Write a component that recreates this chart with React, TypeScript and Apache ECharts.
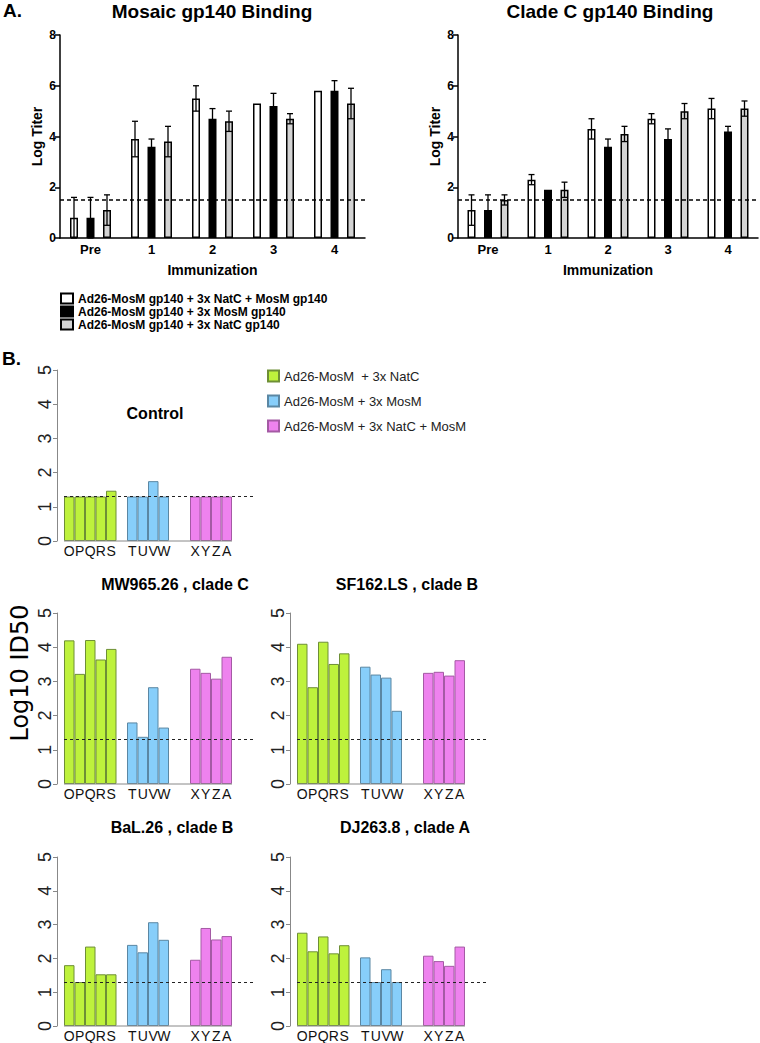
import React, { useEffect, useRef } from 'react';
import * as echarts from 'echarts';

// ---------- Panel A data ----------
const immunizations = ['Pre', '1', '2', '3', '4'];
const groupsA = [
  'Ad26-MosM gp140 + 3x NatC + MosM gp140',
  'Ad26-MosM gp140 + 3x MosM gp140',
  'Ad26-MosM gp140 + 3x NatC gp140',
];
const mosaicWhite = [0.8, 3.9, 5.5, 5.3, 5.8];
const mosaicWhiteErr = [0.8, 0.7, 0.5, 0, 0];
const mosaicBlack = [0.8, 3.6, 4.7, 5.2, 5.8];
const mosaicBlackErr = [0.8, 0.3, 0.4, 0.5, 0.4];
const mosaicGray = [1.1, 3.8, 4.6, 4.7, 5.3];
const mosaicGrayErr = [0.6, 0.6, 0.4, 0.2, 0.6];

const cladeCWhite = [1.1, 2.3, 4.3, 4.7, 5.1];
const cladeCWhiteErr = [0.6, 0.2, 0.4, 0.2, 0.4];
const cladeCBlack = [1.1, 1.9, 3.6, 3.9, 4.2];
const cladeCBlackErr = [0.6, 0, 0.3, 0.4, 0.2];
const cladeCGray = [1.5, 1.9, 4.1, 5.0, 5.1];
const cladeCGrayErr = [0.2, 0.3, 0.3, 0.3, 0.3];

const bindingCutoff = 1.5;
const titerTicks = [0, 2, 4, 6, 8];

// ---------- Panel B data ----------
const groupsB = ['Ad26-MosM  + 3x NatC', 'Ad26-MosM + 3x MosM', 'Ad26-MosM + 3x NatC + MosM'];
const greenLetters = ['O', 'P', 'Q', 'R', 'S'];
const blueLetters = ['T', 'U', 'V', 'W'];
const pinkLetters = ['X', 'Y', 'Z', 'A'];

const controlGreen = [1.3, 1.3, 1.3, 1.3, 1.47];
const controlBlue = [1.3, 1.3, 1.75, 1.3];
const controlPink = [1.3, 1.3, 1.3, 1.3];

const mw965Green = [4.2, 3.22, 4.21, 3.64, 3.95];
const mw965Blue = [1.8, 1.38, 2.83, 1.65];
const mw965Pink = [3.37, 3.25, 3.08, 3.72];

const sf162Green = [4.1, 2.83, 4.16, 3.51, 3.82];
const sf162Blue = [3.43, 3.2, 3.11, 2.14];
const sf162Pink = [3.25, 3.28, 3.17, 3.62];

const bal26Green = [1.8, 1.3, 2.35, 1.53, 1.53];
const bal26Blue = [2.4, 2.18, 3.07, 2.55];
const bal26Pink = [1.96, 2.9, 2.56, 2.66];

const dj263Green = [2.76, 2.21, 2.65, 2.15, 2.39];
const dj263Blue = [2.03, 1.3, 1.68, 1.3];
const dj263Pink = [2.08, 1.92, 1.78, 2.35];

const neutCutoff = 1.3;

// ---------- styling ----------
const FONT = '"Liberation Sans", Arial, Helvetica, sans-serif';
const GREEN = '#bef23c';
const BLUE = '#87cefa';
const PINK = '#ee82ee';
const GREEN_EDGE = '#6e8f36';
const BLUE_EDGE = '#5b87a3';
const PINK_EDGE = '#a45aa4';

export default function App() {
  const ref = useRef<HTMLDivElement>(null);

  useEffect(() => {
    if (!ref.current) return;
    const chart = echarts.init(ref.current, undefined, { renderer: 'svg' });

    const grid: any[] = [];
    const xAxis: any[] = [];
    const yAxis: any[] = [];
    const series: any[] = [];
    const title: any[] = [];

    // ---------- Panel A ----------
    const barW = 8;
    const barGapPx = 8.5;
    const aCharts = [
      {
        name: 'Mosaic gp140 Binding', left: 60, width: 305, titleX: 207,
        vals: [mosaicWhite, mosaicBlack, mosaicGray],
        errs: [mosaicWhiteErr, mosaicBlackErr, mosaicGrayErr],
      },
      {
        name: 'Clade C gp140 Binding', left: 458, width: 300, titleX: 605,
        vals: [cladeCWhite, cladeCBlack, cladeCGray],
        errs: [cladeCWhiteErr, cladeCBlackErr, cladeCGrayErr],
      },
    ];
    const aFills = ['#ffffff', '#000000', '#d3d3d3'];

    aCharts.forEach((c) => {
      const gi = grid.length;
      grid.push({ left: c.left, top: 35, width: c.width, height: 203 });
      title.push({
        text: c.name, left: c.titleX, top: -3, textAlign: 'center',
        textStyle: { fontFamily: FONT, fontSize: 19, fontWeight: 'bold', color: '#000' },
      });
      xAxis.push({
        type: 'category', gridIndex: gi, data: immunizations,
        name: 'Immunization', nameLocation: 'middle', nameGap: 25,
        nameTextStyle: { fontFamily: FONT, fontSize: 14, fontWeight: 'bold', color: '#000' },
        axisLine: { lineStyle: { color: '#000', width: 1.5 } },
        axisTick: { show: false },
        axisLabel: { fontFamily: FONT, fontSize: 13, fontWeight: 'bold', color: '#000', margin: 5 },
      });
      yAxis.push({
        type: 'value', gridIndex: gi, min: titerTicks[0], max: titerTicks[titerTicks.length - 1], interval: 2,
        name: 'Log Titer', nameLocation: 'middle', nameGap: 16,
        nameTextStyle: { fontFamily: FONT, fontSize: 14, fontWeight: 'bold', color: '#000' },
        axisLine: { show: true, lineStyle: { color: '#000', width: 1.5 } },
        axisTick: { show: true, length: 5, lineStyle: { color: '#000', width: 1.5 } },
        axisLabel: { fontFamily: FONT, fontSize: 12, fontWeight: 'bold', color: '#000', margin: 4 },
        splitLine: { show: false },
      });
      c.vals.forEach((vals, si) => {
        series.push({
          type: 'bar', name: groupsA[si], xAxisIndex: gi, yAxisIndex: gi,
          data: vals, barWidth: barW, barGap: (barGapPx / barW) * 100 + '%',
          itemStyle: { color: aFills[si], borderColor: '#000', borderWidth: 1.5 },
          z: 2,
          ...(si === 0
            ? {
                markLine: {
                  silent: true, symbol: 'none', label: { show: false }, z: 6,
                  lineStyle: { color: '#000', width: 1.5, type: [4, 3] },
                  data: [{ yAxis: bindingCutoff }],
                },
              }
            : {}),
        });
        const offset = (si - 1) * (barW + barGapPx);
        series.push({
          type: 'custom', xAxisIndex: gi, yAxisIndex: gi, z: 5,
          data: vals.map((v, i) => [i, v, c.errs[si][i]]),
          renderItem: (params: any, api: any) => {
            const e = api.value(2);
            if (!e) return { type: 'group', children: [] };
            const x = api.value(0);
            const v = api.value(1);
            const top = api.coord([x, v + e]);
            const bot = api.coord([x, v - e]);
            const cx = top[0] + offset;
            const st = { stroke: '#000', lineWidth: 1.3 };
            const cap = 3;
            return {
              type: 'group',
              children: [
                { type: 'line', shape: { x1: cx, y1: top[1], x2: cx, y2: bot[1] }, style: st },
                { type: 'line', shape: { x1: cx - cap, y1: top[1], x2: cx + cap, y2: top[1] }, style: st },
                { type: 'line', shape: { x1: cx - cap, y1: bot[1], x2: cx + cap, y2: bot[1] }, style: st },
              ],
            };
          },
        });
      });
    });

    // ---------- Panel B ----------
    const slots: string[] = [
      ...greenLetters, ' ', ...blueLetters, '  ', '   ', ...pinkLetters, '    ', '     ',
    ];
    const greenIdx = greenLetters.map((l) => slots.indexOf(l));
    const blueIdx = blueLetters.map((l) => slots.indexOf(l));
    const pinkIdx = pinkLetters.map((l) => slots.lastIndexOf(l));
    const fillSlots = (vals: number[], idx: number[]) => {
      const arr: any[] = slots.map(() => '-');
      vals.forEach((v, i) => (arr[idx[i]] = v));
      return arr;
    };
    const firstSlot = greenIdx[0];
    const lastSlot = pinkIdx[pinkIdx.length - 1];

    const bCharts = [
      { name: 'Control', left: 64, top: 370, tx: 150, ty: 400, g: controlGreen, b: controlBlue, p: controlPink },
      { name: 'MW965.26 , clade C', left: 64, top: 613, tx: 170, ty: 571, g: mw965Green, b: mw965Blue, p: mw965Pink },
      { name: 'SF162.LS , clade B', left: 297, top: 613, tx: 402, ty: 571, g: sf162Green, b: sf162Blue, p: sf162Pink },
      { name: 'BaL.26 , clade B', left: 64, top: 857, tx: 167, ty: 814, g: bal26Green, b: bal26Blue, p: bal26Pink },
      { name: 'DJ263.8 , clade A', left: 297, top: 857, tx: 400, ty: 814, g: dj263Green, b: dj263Blue, p: dj263Pink },
    ];

    bCharts.forEach((c) => {
      const gi = grid.length;
      grid.push({ left: c.left, top: c.top, width: 189, height: 171 });
      title.push({
        text: c.name, left: c.tx, top: c.ty, textAlign: 'center',
        textStyle: { fontFamily: FONT, fontSize: 16, fontWeight: 'bold', color: '#000' },
      });
      xAxis.push({
        type: 'category', gridIndex: gi, data: slots,
        axisLine: { show: false }, axisTick: { show: false },
        axisLabel: { interval: 0, fontFamily: FONT, fontSize: 14, color: '#111', margin: 3 },
      });
      yAxis.push({
        type: 'value', gridIndex: gi, min: 0, max: 5, interval: 1, offset: 7,
        axisLine: { show: true, lineStyle: { color: '#888', width: 1 } },
        axisTick: { show: true, length: 4, lineStyle: { color: '#888', width: 1 } },
        axisLabel: { rotate: 90, fontFamily: FONT, fontSize: 18, color: '#222', margin: 3 },
        splitLine: { show: false },
      });
      const parts = [
        { vals: c.g, idx: greenIdx, color: GREEN, edge: GREEN_EDGE, name: groupsB[0] },
        { vals: c.b, idx: blueIdx, color: BLUE, edge: BLUE_EDGE, name: groupsB[1] },
        { vals: c.p, idx: pinkIdx, color: PINK, edge: PINK_EDGE, name: groupsB[2] },
      ];
      parts.forEach((p) => {
        series.push({
          type: 'bar', name: p.name, xAxisIndex: gi, yAxisIndex: gi,
          data: fillSlots(p.vals, p.idx), barGap: '-100%', barCategoryGap: '0%',
          itemStyle: { color: p.color, borderColor: p.edge, borderWidth: 1 },
          z: 2,
        });
      });
      series.push({
        type: 'custom', xAxisIndex: gi, yAxisIndex: gi, z: 6,
        data: [[firstSlot, 0]],
        renderItem: (params: any, api: any) => {
          const a = api.coord([firstSlot, 0]);
          const b = api.coord([lastSlot, 0]);
          const w = api.size([1, 0])[0];
          return {
            type: 'line',
            shape: { x1: a[0] - w / 2, y1: a[1], x2: b[0] + w / 2, y2: b[1] },
            style: { stroke: '#888', lineWidth: 1 },
          };
        },
        markLine: {
          silent: true, symbol: 'none', label: { show: false }, z: 7,
          lineStyle: { color: '#222', width: 1.2, type: [3, 3] },
          data: [{ yAxis: neutCutoff }],
        },
      });
    });

    const option: any = {
      animation: false,
      backgroundColor: '#fff',
      title,
      grid,
      xAxis,
      yAxis,
      series,
      legend: [
        {
          data: groupsA, orient: 'vertical', left: 55, top: 287, itemGap: 0,
          itemWidth: 12, itemHeight: 10, icon: 'rect', selectedMode: false,
          textStyle: { fontFamily: FONT, fontSize: 12, fontWeight: 'bold', color: '#000', lineHeight: 13 },
        },
        {
          data: groupsB, orient: 'vertical', left: 262, top: 364, itemGap: 11,
          itemWidth: 11, itemHeight: 11, icon: 'rect', selectedMode: false,
          textStyle: { fontFamily: FONT, fontSize: 13, color: '#222', lineHeight: 14 },
        },
      ],
      graphic: [
        { type: 'text', left: 3, top: 1, style: { text: 'A.', font: `bold 19px ${FONT}`, fill: '#000' } },
        { type: 'text', left: 2, top: 349, style: { text: 'B.', font: `bold 19px ${FONT}`, fill: '#000' } },
        {
          type: 'text', x: 20, y: 673, rotation: Math.PI / 2,
          style: {
            text: 'Log10 ID50', font: `24px "DejaVu Sans", sans-serif`, fill: '#000',
            align: 'center', verticalAlign: 'middle',
          },
        },
      ],
    };
    chart.setOption(option);
    return () => chart.dispose();
  }, []);

  return (
    <div
      ref={ref}
      style={{ position: 'absolute', left: 0, top: 0, width: 760, height: 1043, background: '#fff' }}
    />
  );
}
